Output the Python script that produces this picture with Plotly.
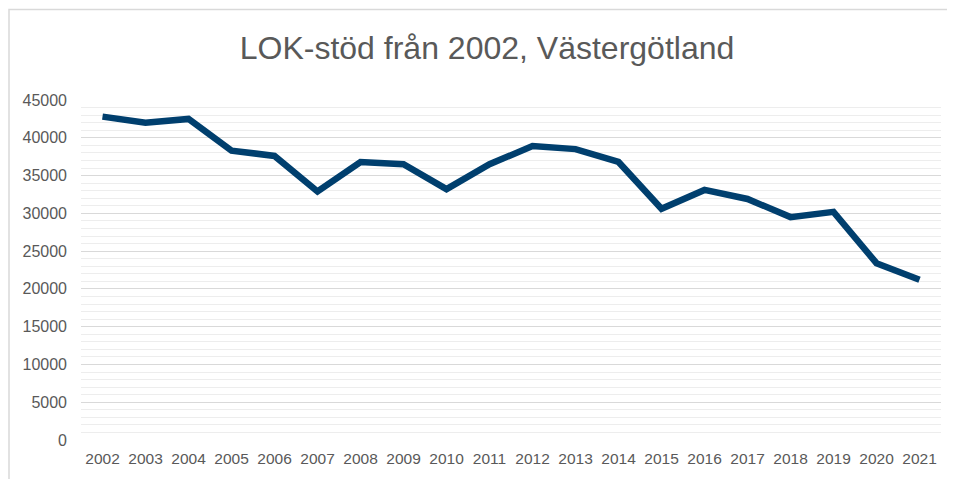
import plotly.graph_objects as go

years = [str(y) for y in range(2002, 2022)]
values = [42800, 42000, 42500, 38300, 37600, 32900, 36800, 36500, 33200, 36500,
          38900, 38500, 36800, 30600, 33100, 31900, 29500, 30200, 23400, 21200]
y_ticks = [0, 5000, 10000, 15000, 20000, 25000, 30000, 35000, 40000, 45000]

# page body has an 8px default margin; compensate so the plot lands where wanted
OFF = 8
W, H = 955 - OFF, 479 - OFF
L, R, T, B = 81 - OFF, 14, 100 - OFF, 39
pw, ph = W - L - R, H - T - B

fig = go.Figure()
fig.add_trace(go.Scatter(
    x=years, y=values, mode="lines",
    line=dict(color="#003f6e", width=6.5),
    hoverinfo="x+y",
))

font_family = "Liberation Sans, Arial, sans-serif"

fig.update_layout(
    width=W, height=H,
    margin=dict(l=L, r=R, t=T, b=B),
    paper_bgcolor="white", plot_bgcolor="white",
    showlegend=False,
    font=dict(family=font_family, color="#595959", size=16),
    title=dict(
        text="LOK-stöd från 2002, Västergötland",
        font=dict(family=font_family, size=32, color="#595959"),
        x=(487 - 81) / pw, xref="paper", xanchor="center",
        y=1 - (48 - OFF) / H, yref="container", yanchor="middle",
    ),
    xaxis=dict(
        type="category", range=[-0.5, 19.5],
        showgrid=False, zeroline=False, showline=False,
        ticks="", ticklabelstandoff=7,
        tickfont=dict(size=15.5, color="#595959"),
        fixedrange=True, automargin=False,
    ),
    yaxis=dict(
        range=[0, 45000], tickvals=y_ticks,
        ticktext=[str(v) for v in y_ticks],
        showgrid=True, gridcolor="#d9d9d9", gridwidth=1,
        minor=dict(dtick=1000, showgrid=True, gridcolor="#ededed", gridwidth=1),
        zeroline=False, showline=False, ticks="",
        ticklabelstandoff=13,
        tickfont=dict(size=16, color="#595959"),
        fixedrange=True, automargin=False,
    ),
)

# chart-area border (left and top visible)
fig.add_shape(
    type="rect", xref="paper", yref="paper",
    x0=-(L - 1) / pw, x1=1 + (R + 20) / pw,
    y0=-(B + 20) / ph, y1=1 + (T - 1.5) / ph,
    line=dict(color="#d9d9d9", width=1.5), fillcolor="rgba(0,0,0,0)",
    layer="below",
)

fig.write_html("out.html")
